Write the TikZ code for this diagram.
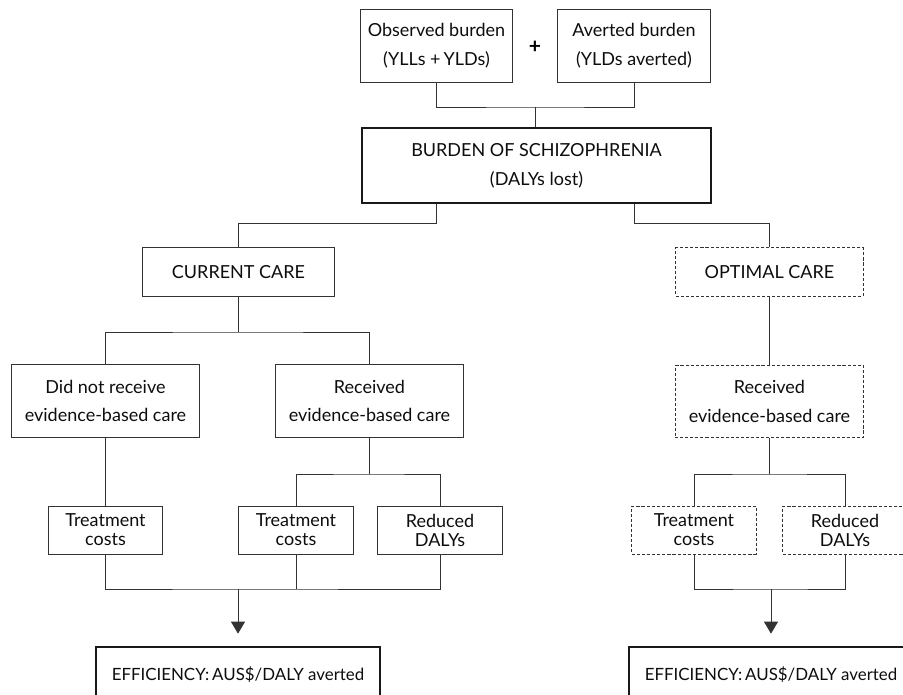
\documentclass[tikz,border=0pt]{standalone}
\usepackage{fontspec}
\setmainfont{Lato}
\usetikzlibrary{arrows.meta, calc}

\begin{document}
\begin{tikzpicture}[x=0.025cm, y=-0.025cm,
    line width=0.7pt, draw=black!80,
    box/.style={draw, rectangle, inner sep=0pt, align=center, text=black!95,
      font=\fontsize{12.8}{20.5}\selectfont},
    smallbox/.style={box, font=\fontsize{12.8}{13.5}\selectfont},
    mainbox/.style={box, line width=1.9pt, draw=black!90},
    effbox/.style={mainbox, font=\fontsize{12}{14}\selectfont},
    optbox/.style={dash pattern=on 2.2pt off 1.4pt},
    flow/.style={-{Triangle[width=0.35cm, length=0.3cm]}, shorten >=0.3cm}]
    \useasboundingbox (0,0) rectangle (903,695);
    % top: burden parts
    \node[box, minimum width=3.78cm, minimum height=1.8cm] (obs) at (436.5, 46) {Observed burden\\(YLLs +\,YLDs)};
    \node[box, minimum width=3.8cm, minimum height=1.8cm] (avt) at (634, 46) {Averted burden\\(YLDs averted)};
    \node[text=black, font=\fontsize{15}{16}\bfseries] (plus) at (535, 47) {+};
    \node[mainbox, minimum width=8.72cm, minimum height=1.88cm] (burden) at (536.5, 165.5) {BURDEN OF SCHIZOPHRENIA\\(DALYs lost)};
    \coordinate (jtop) at (535.5, 107);
    \draw (obs.south) |- (jtop) -| (avt.south);
    \draw (jtop) -- (jtop |- burden.north);
    % care branches
    \node[box, minimum width=4.78cm, minimum height=1.2cm] (cur) at (238.5, 272) {CURRENT CARE};
    \node[box, optbox, minimum width=4.68cm, minimum height=1.2cm] (opt) at (769.5, 272) {OPTIMAL CARE};
    \coordinate (splitl) at (238.5, 223);
    \coordinate (splitr) at (769.5, 223);
    \draw (burden.south -| obs.south) |- (splitl) -- (cur.north);
    \draw (burden.south -| avt.south) |- (splitr) -- (opt.north);
    % current care
    \node[box, minimum width=4.72cm, minimum height=1.8cm] (dnr) at (105.5, 401) {Did not receive\\evidence-based care};
    \node[box, minimum width=4.72cm, minimum height=1.8cm] (rec) at (369.5, 401) {Received\\evidence-based care};
    \coordinate (curj) at (238.5, 332);
    \draw (cur.south) -- (curj);
    \draw (dnr.north) |- (curj) -| (rec.north);
    \node[smallbox, minimum width=2.85cm, minimum height=1.2cm] (tc1) at (105.5, 530) {Treatment\\costs};
    \node[smallbox, minimum width=2.85cm, minimum height=1.2cm] (tc2) at (296, 530) {Treatment\\costs};
    \node[smallbox, minimum width=3.1cm, minimum height=1.2cm] (rd1) at (440, 530) {Reduced\\DALYs};
    \draw (dnr.south) -- (tc1.north);
    \coordinate (recj) at (369.5, 474);
    \draw (rec.south) -- (recj);
    \draw (tc2.north) |- (recj) -| (rd1.north);
    % optimal care
    \node[box, optbox, minimum width=4.72cm, minimum height=1.78cm] (orec) at (769.5, 401.5) {Received\\evidence-based care};
    \draw (opt.south) -- (orec.north);
    \node[smallbox, optbox, minimum width=3.1cm, minimum height=1.2cm] (tc3) at (694, 530) {Treatment\\costs};
    \node[smallbox, optbox, minimum width=3.1cm, minimum height=1.2cm] (rd3) at (845, 530) {Reduced\\DALYs};
    \coordinate (orecj) at (769.5, 474);
    \draw (orec.south) -- (orecj);
    \draw (tc3.north) |- (orecj) -| (rd3.north);
    % efficiency
    \node[effbox, minimum width=7.1cm, minimum height=1.4cm] (eff1) at (238, 675) {EFFICIENCY:\,AUS\$/DALY averted};
    \node[effbox, minimum width=7.1cm, minimum height=1.4cm] (eff2) at (771, 675) {EFFICIENCY:\,AUS\$/DALY averted};
    \coordinate (mergel) at (238, 589);
    \coordinate (merger) at (771, 589);
    \draw (tc1.south) |- (mergel) -| (rd1.south);
    \draw (tc2.south) -- (tc2.south |- mergel);
    \draw[flow] (mergel) -- (eff1.north);
    \draw (tc3.south) |- (merger) -| (rd3.south);
    \draw[flow] (merger) -- (eff2.north);
\end{tikzpicture}
\end{document}
